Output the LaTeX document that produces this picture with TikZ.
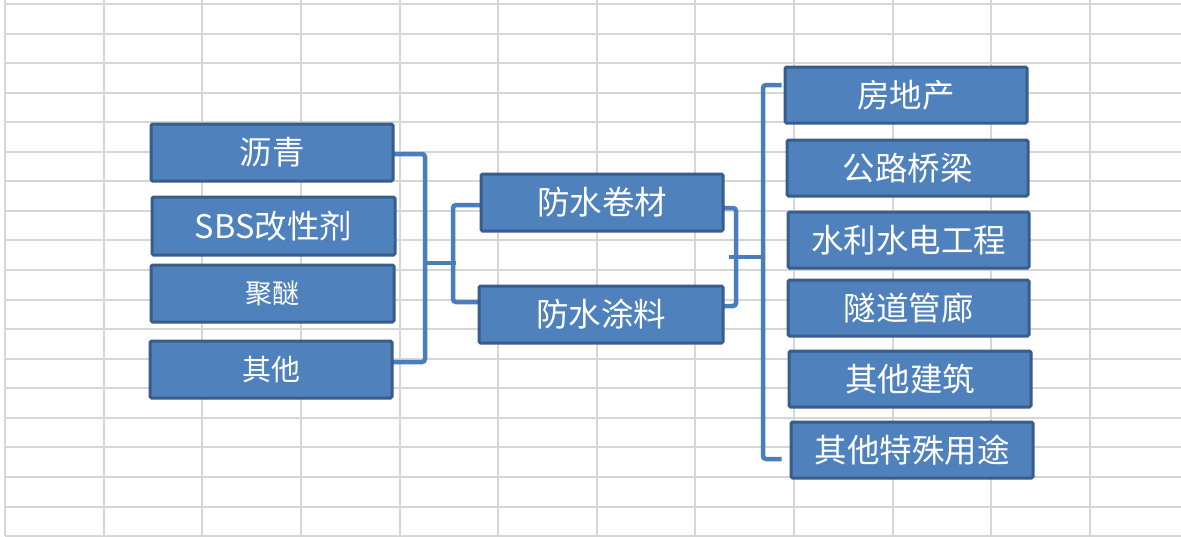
\documentclass[tikz,border=0pt]{standalone}
\usepackage{fontspec}
\newfontfamily\cjk{Noto Sans CJK SC}
\definecolor{gridc}{HTML}{D6D6D6}
\definecolor{boxfill}{HTML}{4F81BD}
\definecolor{boxline}{HTML}{385D8A}
\definecolor{conn}{HTML}{4A7EBB}
\pgfdeclarelayer{bg}
\pgfsetlayers{bg,main}
\tikzset{
  box/.style={draw=boxline, fill=boxfill, line width=3pt, rounded corners=1.5pt,
    minimum width=242pt, minimum height=56pt, inner sep=0pt, text=white,
    font=\cjk\fontsize{32.5}{32.5}\selectfont},
  smalltxt/.style={font=\cjk\fontsize{27}{27}\selectfont},
  midtxt/.style={font=\cjk\fontsize{29}{29}\selectfont},
  link/.style={draw=conn, line width=4.5pt, rounded corners=3pt},
  gridline/.style={draw=gridc, line width=2pt}
}
\begin{document}
\begin{tikzpicture}[x=1pt,y=-1pt]
\useasboundingbox (0,0) rectangle (1181,536);
% nodes
\node[box, minimum width=242pt, minimum height=57pt] (liqing) at (272,152.5) {沥青};
\node[box, minimum width=243pt, minimum height=58pt] (sbs) at (273.5,226) {SBS改性剂};
\node[box, smalltxt, minimum width=243pt, minimum height=57pt] (jumi) at (272.5,293.5) {聚醚};
\node[box, midtxt, minimum width=242pt, minimum height=57pt] (qita) at (271,369.5) {其他};
\node[box, minimum width=242pt, minimum height=57pt] (juancai) at (602,202.5) {防水卷材};
\node[box, minimum width=244pt, minimum height=57pt] (tuliao) at (601,314.5) {防水涂料};
\node[box] (r1) at (906,95) {房地产};
\node[box, minimum width=241pt] (r2) at (907.5,168) {公路桥梁};
\node[box, minimum width=241pt] (r3) at (908.5,240) {水利水电工程};
\node[box, minimum width=241pt] (r4) at (908.5,308) {隧道管廊};
\node[box] (r5) at (910,379) {其他建筑};
\node[box] (r6) at (912,450) {其他特殊用途};
% bracket joints
\coordinate (lj) at (425,263);
\coordinate (lj2) at (456,263);
\coordinate (lv) at (453,263);
\coordinate (rv) at (736,257);
\coordinate (rj) at (729,257);
\coordinate (rj2) at (763,257);
\begin{pgfonlayer}{bg}
\fill[white] (0,0) rectangle (1181,536);
% spreadsheet grid
\foreach \i in {0,...,12} {
  \draw[gridline] (5+98.64*\i,0) -- (5+98.64*\i,536);
}
\foreach \j in {0,...,18} {
  \draw[gridline] (5,4+29.56*\j) -- (1181,4+29.56*\j);
}
% connectors
\draw[link] ([xshift=-2pt,yshift=-1.5pt]liqing.east) -| (lj) |- ([xshift=-2pt,yshift=7.5pt]qita.east);
\draw[link, rounded corners=0pt] (lj) -- (lj2);
\draw[link] ([xshift=8pt,yshift=-2.5pt]juancai.west) -| (lv) |- ([xshift=8pt,yshift=12.5pt]tuliao.west);
\draw[link] ([xshift=-2pt,yshift=-5.5pt]juancai.east) -| (rv) |- ([xshift=-2pt,yshift=8.5pt]tuliao.east);
\draw[link, rounded corners=0pt] (rj) -- (rj2);
\draw[link] ([xshift=-2pt,yshift=10pt]r1.west) -| (rj2) |- ([xshift=-8pt,yshift=-9pt]r6.west);
\end{pgfonlayer}
\end{tikzpicture}
\end{document}
